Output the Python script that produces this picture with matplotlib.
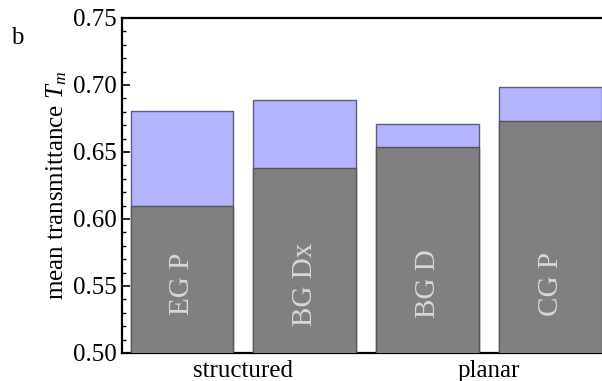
import numpy as np
import matplotlib.pyplot as plt

plt.rcParams['font.family'] = ['Liberation Serif', 'DejaVu Serif']
plt.rcParams['mathtext.fontset'] = 'custom'
plt.rcParams['mathtext.rm'] = 'Liberation Serif'
plt.rcParams['mathtext.it'] = 'Liberation Serif:italic'

# data
samples = ['EG P', 'BG Dx', 'BG D', 'CG P']
tm_total = [0.6806, 0.6890, 0.6706, 0.6984]   # light blue tops
tm_base = [0.6096, 0.6382, 0.6535, 0.6734]    # grey tops
groups = ['structured', 'planar']
group_pos = [1.5, 3.5]

x = np.arange(1, len(samples) + 1)
w = 0.836

fig = plt.figure(figsize=(6.02, 3.81), dpi=100)
ax = fig.add_axes([0.2027, 0.0735, 0.7973, 0.8793])

ax.bar(x, tm_total, width=w, color='#b3b3ff', edgecolor='#5c5c80', linewidth=1.0, zorder=2)
ax.bar(x, tm_base, width=w, color='#808080', edgecolor='#555555', linewidth=1.0, zorder=3)

for xi, name in zip(x, samples):
    ax.text(xi, 0.5515, name, rotation=90, ha='center', va='center',
            color='#d8d8d8', fontsize=21, zorder=4)

ax.set_xlim(0.513, 4.419)
ax.set_ylim(0.50, 0.75)
ax.set_yticks(np.arange(0.50, 0.751, 0.05))
ax.set_yticks(np.arange(0.50, 0.751, 0.01), minor=True)
ax.set_yticklabels(['%.2f' % v for v in np.arange(0.50, 0.751, 0.05)])
ax.set_xticks(group_pos)
ax.set_xticklabels(groups)
ax.tick_params(axis='x', length=0, labelsize=18, pad=5)
ax.tick_params(axis='y', which='major', direction='in', length=6, width=1.2, labelsize=18, pad=4)
ax.tick_params(axis='y', which='minor', direction='in', length=3, width=1.0)

for s in ['left', 'bottom', 'top']:
    ax.spines[s].set_linewidth(1.6)
ax.spines['right'].set_visible(False)

ax.set_ylabel('mean transmittance $T_m$', fontsize=18, labelpad=3)
fig.text(0.018, 0.90, 'b', fontsize=18, ha='left', va='center')

fig.savefig('out.png', dpi=100)
